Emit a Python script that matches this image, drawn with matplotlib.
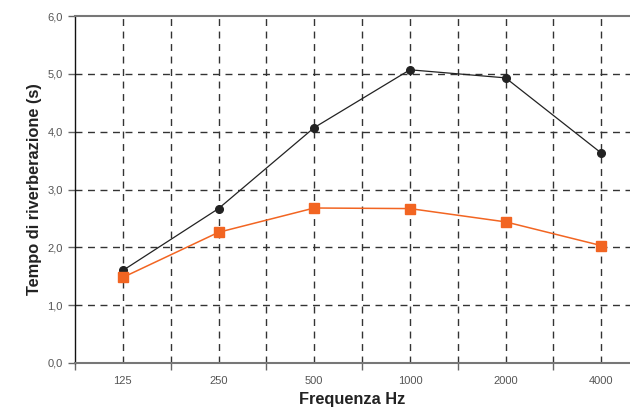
import matplotlib.pyplot as plt
import numpy as np

plt.rcParams['font.family'] = ['Liberation Sans', 'DejaVu Sans']

# dati
freq = ['125', '250', '500', '1000', '2000', '4000']
tempo_nero = [1.60, 2.67, 4.07, 5.07, 4.93, 3.63]
tempo_arancio = [1.48, 2.26, 2.68, 2.67, 2.44, 2.03]
y_ticks = [0, 1, 2, 3, 4, 5, 6]
y_labels = ['0,0', '1,0', '2,0', '3,0', '4,0', '5,0', '6,0']

pos = np.arange(len(freq)) + 0.5

fig = plt.figure(figsize=(6.3, 4.09), dpi=100)
ax = fig.add_axes([75/630, 1 - 363/409, 1 - 75/630, (363 - 16)/409])

# griglia tratteggiata
for x in list(pos) + list(range(1, 6)):
    ax.axvline(x, color='#333333', lw=1, ls=(0, (5, 4)), zorder=1)
for y in y_ticks[1:-1]:
    ax.axhline(y, color='#333333', lw=1, ls=(0, (5, 4)), zorder=1)

ax.plot(pos, tempo_nero, color='#222222', lw=0.9, marker='o', ms=5.5, zorder=3)
ax.plot(pos, tempo_arancio, color='#f26522', lw=1.1, marker='s', ms=6.5, zorder=3)

ax.set_xlim(0, 5.8)
ax.set_ylim(0, 6)

ax.set_xticks(pos)
ax.set_xticklabels(freq)
ax.set_xticks(range(0, 6), minor=True)
ax.tick_params(axis='x', which='major', length=0, pad=9, labelsize=8, labelcolor='#555555')
ax.tick_params(axis='x', which='minor', length=5, width=1, color='#666666', direction='out')
ax.set_yticks(y_ticks)
ax.set_yticklabels(y_labels)
ax.tick_params(axis='y', length=5, width=1, color='#666666', pad=4, labelsize=8, labelcolor='#555555')

ax.spines['right'].set_visible(False)
ax.spines['top'].set_color('#777777')
ax.spines['top'].set_linewidth(1.5)
ax.spines['bottom'].set_color('#777777')
ax.spines['bottom'].set_linewidth(1.5)
ax.spines['left'].set_color('#111111')
ax.spines['left'].set_linewidth(1)

ax.set_xlabel('Frequenza Hz', fontsize=11.8, fontweight='bold', color='#222222', labelpad=5)
ax.set_ylabel('Tempo di riverberazione (s)', fontsize=11.8, fontweight='bold', color='#222222', labelpad=4)

fig.savefig('out.png', dpi=100)
